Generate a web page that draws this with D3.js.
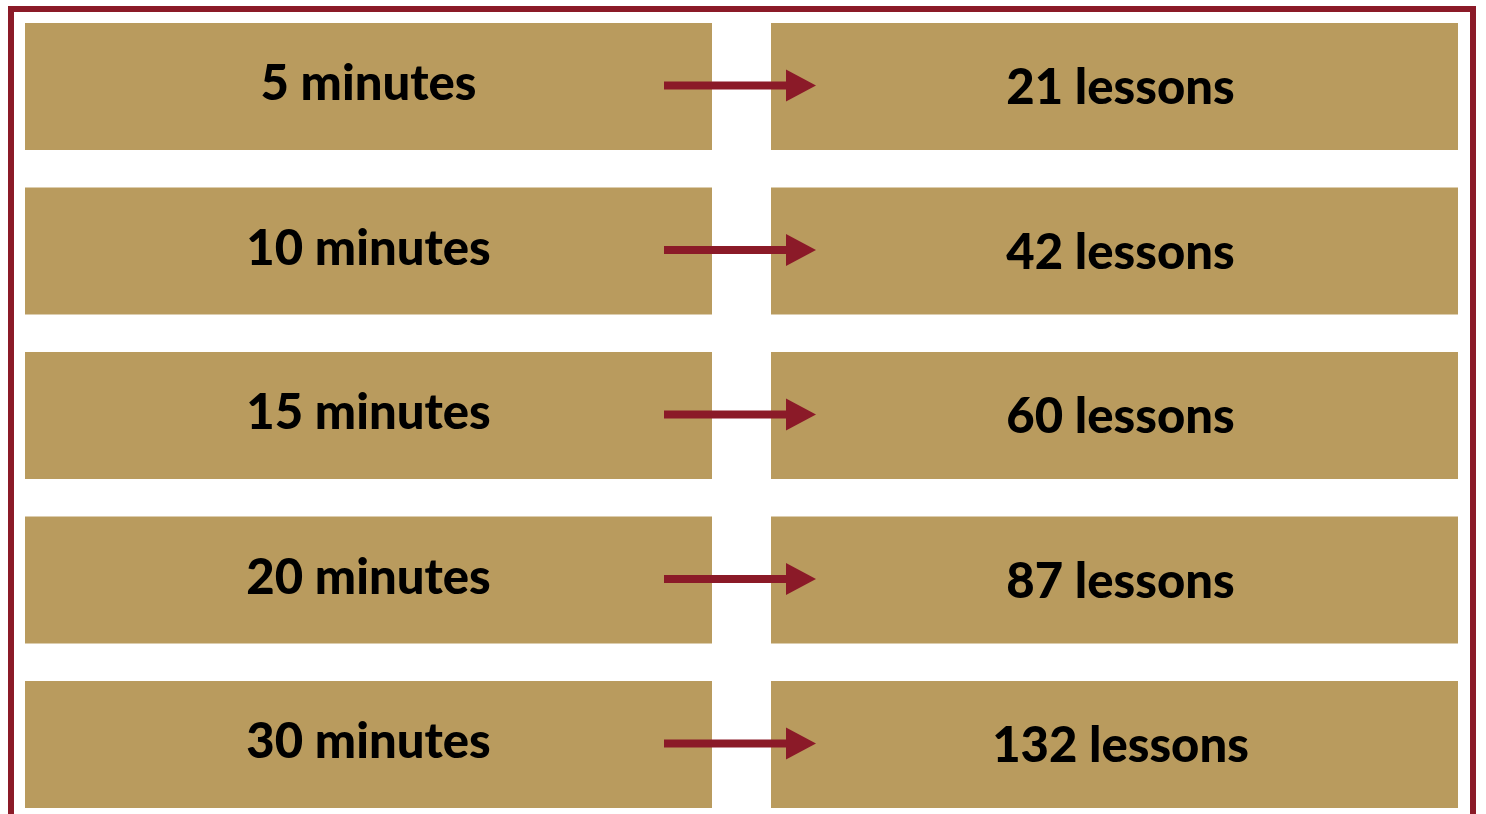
<!DOCTYPE html>
<html>
<head>
<meta charset="utf-8">
<script src="https://cdn.jsdelivr.net/npm/d3@7"></script>
<style>
  body { margin: 0; background: #fff; }
  svg { display: block; }
</style>
</head>
<body>
<svg id="chart"></svg>
<script>
// minutes per day -> lessons per year
const minutes = [5, 10, 15, 20, 30];
const lessons = [21, 42, 60, 87, 132];
const leftLabels = minutes.map(d => d + " minutes");
const rightLabels = lessons.map(d => d + " lessons");

const W = 1486, H = 814;
const tan = "#b99b5e";
const maroon = "#8b1a28";

const svg = d3.select("#chart")
  .attr("width", W)
  .attr("height", H);

// outer frame, bottom edge runs off the page
svg.append("rect")
  .attr("x", 11)
  .attr("y", 9)
  .attr("width", 1462)
  .attr("height", 900)
  .attr("fill", "none")
  .attr("stroke", maroon)
  .attr("stroke-width", 6);

const rows = d3.range(minutes.length);

let y = d3.scaleBand()
  .domain(rows)
  .range([23, 808])
  .paddingInner(0.228);

let col = d3.scaleBand()
  .domain(["left", "right"])
  .range([25, 1458])
  .paddingInner(0.0791);

const g = svg.append("g");

const row = g.selectAll("g.row")
  .data(rows)
  .join("g")
  .attr("class", "row")
  .attr("transform", d => `translate(0,${y(d)})`);

row.append("rect")
  .attr("x", col("left"))
  .attr("width", col.bandwidth())
  .attr("height", y.bandwidth())
  .attr("fill", tan);

row.append("rect")
  .attr("x", col("right"))
  .attr("width", col.bandwidth())
  .attr("height", y.bandwidth())
  .attr("fill", tan);

const font = "Lato, 'DejaVu Sans', sans-serif";

row.append("text")
  .attr("x", col("left") + col.bandwidth() / 2)
  .attr("y", y.bandwidth() / 2 - 5)
  .attr("text-anchor", "middle")
  .attr("dominant-baseline", "central")
  .style("font-family", font)
  .style("font-weight", 900)
  .style("font-size", "49px")
  .style("fill", "#000")
  .text(d => leftLabels[d]);

// right labels sit a little right of the box centre
row.append("text")
  .attr("x", col("right") + col.bandwidth() / 2 + 6)
  .attr("y", y.bandwidth() / 2 - 1)
  .attr("text-anchor", "middle")
  .attr("dominant-baseline", "central")
  .style("font-family", font)
  .style("font-weight", 900)
  .style("font-size", "49px")
  .style("fill", "#000")
  .text(d => rightLabels[d]);

// arrows
const ay = y.bandwidth() / 2 - 1;
row.append("line")
  .attr("x1", 664)
  .attr("x2", 790)
  .attr("y1", ay)
  .attr("y2", ay)
  .attr("stroke", maroon)
  .attr("stroke-width", 8);

row.append("path")
  .attr("d", `M786,${ay - 16} L816,${ay} L786,${ay + 16} Z`)
  .attr("fill", maroon);
</script>
</body>
</html>
